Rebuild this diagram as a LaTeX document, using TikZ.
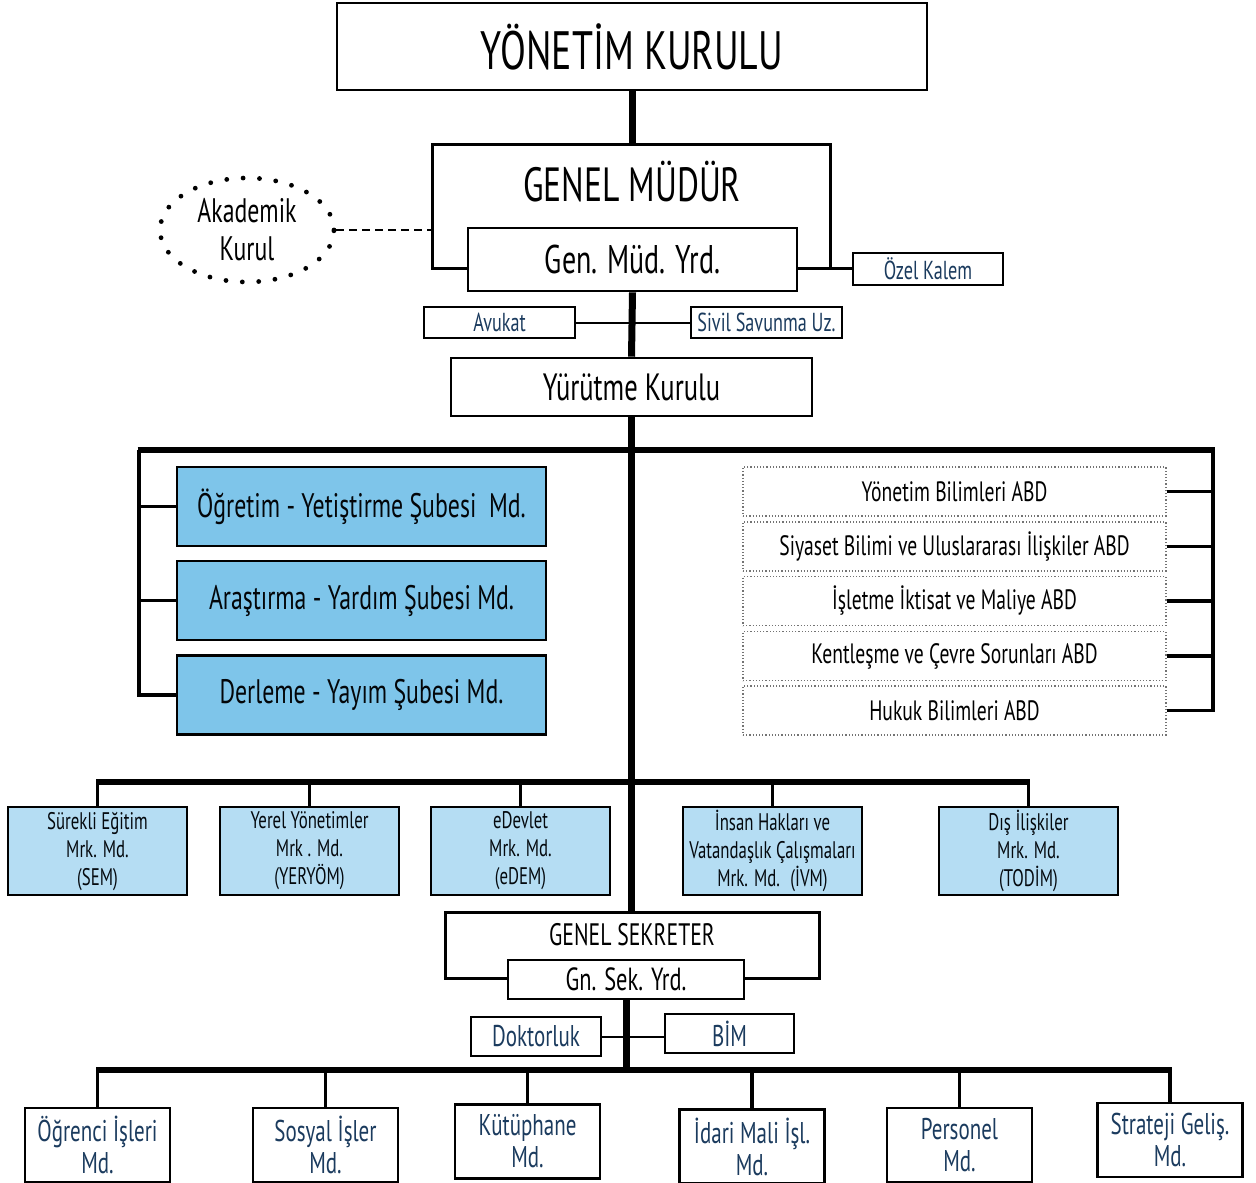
\documentclass[tikz,border=0pt]{standalone}
\usepackage{fontspec}
\setmainfont{PT Sans}[FakeStretch=0.7]
\usetikzlibrary{shapes.geometric}
\definecolor{navy}{HTML}{1B3B5E}
\definecolor{bluefill}{HTML}{7EC5EA}
\definecolor{lightfill}{HTML}{B5DDF3}
\newcommand{\fs}[2]{\fontsize{#1}{#2}\selectfont}
\tikzset{
  box/.style={draw=black, line width=1.3pt, fill=white, inner sep=0pt, align=center},
  smallbox/.style={box, text=navy},
  bluebox/.style={box, fill=bluefill, text=black!90!navy, minimum width=184.5pt, minimum height=39.5pt, font=\fs{17}{20}},
  midbox/.style={box, fill=lightfill, minimum width=89.5pt, minimum height=44pt, text=black!85!navy, font=\fs{12}{14}},
  abdbox/.style={draw=black!55, densely dotted, line width=0.6pt, inner sep=0pt, minimum width=211.5pt, minimum height=24.5pt, font=\fs{14}{16}},
  botbox/.style={box, text=navy, minimum width=72.5pt, minimum height=37pt, font=\fs{15}{16}},
  trunk/.style={line width=3.5pt},
  bus/.style={line width=3pt},
  branch/.style={line width=1.8pt},
  thin/.style={line width=1pt},
  txt/.style={inner sep=0pt}
}
\begin{document}
\begin{tikzpicture}[x=0.5pt,y=-0.5pt]
\useasboundingbox (0,0) rectangle (1256,1182);
% top
\node[box, minimum width=295pt, minimum height=43.5pt, font=\fs{27}{32}] (yk) at (632,46.5) {YÖNETİM KURULU};
\node[inner sep=0pt, minimum width=198.5pt, minimum height=61.5pt] (gm) at (631.5,206.5) {};
\node[txt, font=\fs{24}{28}] (gmt) at (632,182) {GENEL MÜDÜR};
\node[box, minimum width=164.5pt, minimum height=31.5pt, font=\fs{20}{24}] (yrd) at (632.5,259.5) {Gen. Müd. Yrd.};
\draw[line width=1.3pt] (yrd.west |- gm.south) -- (gm.south west) -- (gm.north west) -- (gm.north east) -- (gm.south east) -- (yrd.east |- gm.south);
\node[smallbox, minimum width=75pt, minimum height=16pt, font=\fs{13}{15}] (ozel) at (928,269) {Özel Kalem};
\draw[line width=1.3pt] (gm.south east) -- (ozel.west |- gm.south east);
\node[ellipse, draw, line width=2.4pt, line cap=round, dash pattern=on 0pt off 8.2pt, minimum width=87pt, minimum height=52pt, align=center, inner sep=0pt, font=\fs{17}{19}] (ak) at (247,230) {Akademik\\Kurul};
\draw[line width=1.1pt, dash pattern=on 4pt off 2.5pt] (ak.east) -- (gm.west |- ak.east);
\draw[trunk] (yk.south) -- (yk.south |- gm.north);
% avukat / sivil
\node[smallbox, minimum width=75.5pt, minimum height=15.5pt, font=\fs{13}{15}] (avk) at (499.5,322.5) {Avukat};
\node[smallbox, minimum width=75.5pt, minimum height=15.5pt, font=\fs{13}{15}] (siv) at (766.5,322.5) {Sivil Savunma Uz.};
\node[box, minimum width=180.5pt, minimum height=29pt, font=\fs{19}{22}] (yur) at (631.5,387) {Yürütme Kurulu};
\draw[thin] (avk.east) -- (siv.west);
\draw[trunk] (yrd.south) -- (yur.north);
% left/right bus
\coordinate (bl) at (139,450);
\coordinate (br) at (1213,450);
\draw[bus] ([xshift=-0.75pt]bl) -- ([xshift=0.75pt]br);
% blue boxes
\node[bluebox] (b1) at (361.5,506.5) {Öğretim - Yetiştirme Şubesi~ Md.};
\node[bluebox] (b2) at (361.5,600.5) {Araştırma - Yardım Şubesi Md.};
\node[bluebox] (b3) at (361.5,695) {Derleme - Yayım Şubesi Md.};
\draw[branch] (bl) -- (bl |- b3.west) -- (b3.west);
\draw[branch] (bl |- b1.west) -- (b1.west);
\draw[branch] (bl |- b2.west) -- (b2.west);
% ABD boxes
\node[abdbox] (a1) at (954.5,491.5) {Yönetim Bilimleri ABD};
\node[abdbox] (a2) at (954.5,546.5) {Siyaset Bilimi ve Uluslararası İlişkiler ABD};
\node[abdbox] (a3) at (954.5,601) {İşletme İktisat ve Maliye ABD};
\node[abdbox] (a4) at (954.5,656) {Kentleşme ve Çevre Sorunları ABD};
\node[abdbox] (a5) at (954.5,710.5) {Hukuk Bilimleri ABD};
\draw[branch] (br) -- (br |- a5.east) -- (a5.east);
\foreach \n in {a1,a2,a3,a4} \draw[branch] (br |- \n.east) -- (\n.east);
% middle row
\coordinate (ml) at (97.5,782);
\coordinate (mr) at (1028.5,782);
\draw[bus] ([xshift=-0.75pt]ml) -- ([xshift=0.75pt]mr);
\node[midbox] (m1) at (97.5,851) {Sürekli Eğitim\\Mrk. Md.\\(SEM)};
\node[midbox] (m2) at (309.5,851) {Yerel Yönetimler\\Mrk . Md.\\(YERYÖM)};
\node[midbox] (m3) at (520.5,851) {eDevlet\\Mrk. Md.\\(eDEM)};
\node[midbox] (m4) at (772.5,851) {İnsan Hakları ve\\Vatandaşlık Çalışmaları\\Mrk. Md.~ (İVM)};
\node[midbox] (m5) at (1028.5,851) {Dış İlişkiler\\Mrk. Md.\\(TODİM)};
\foreach \n in {m1,m2,m3,m4,m5} \draw[branch] (\n.north |- ml) -- (\n.north);
% genel sekreter
\node[inner sep=0pt, minimum width=186.5pt, minimum height=32.5pt] (gs) at (632.5,945.5) {};
\node[txt, font=\fs{15.5}{18}] (gst) at (632,935) {GENEL SEKRETER};
\node[box, minimum width=118pt, minimum height=19.5pt, font=\fs{16}{18}] (gsy) at (626,979.5) {Gn. Sek. Yrd.};
\draw[line width=1.3pt] (gsy.west |- gs.south) -- (gs.south west) -- (gs.north west) -- (gs.north east) -- (gs.south east) -- (gsy.east |- gs.south);
\draw[trunk] (yur.south) -- (yur.south |- gs.north);
% doktorluk / bim
\node[smallbox, minimum width=65pt, minimum height=19.5pt, font=\fs{15}{17}] (dok) at (536,1036.5) {Doktorluk};
\node[smallbox, minimum width=64.5pt, minimum height=19.5pt, font=\fs{15}{17}] (bim) at (729.5,1033.5) {BİM};
\draw[thin] (dok.east) -- (bim.west |- dok.east);
% bottom row
\coordinate (bbl) at (97.5,1070);
\coordinate (bbr) at (1170,1070);
\draw[trunk] (gsy.south) -- (gsy.south |- bbl);
\draw[bus] ([xshift=-0.75pt]bbl) -- ([xshift=0.75pt]bbr);
\node[botbox] (c1) at (97.5,1145) {Öğrenci İşleri\\Md.};
\node[botbox] (c2) at (325.5,1145) {Sosyal İşler\\Md.};
\node[botbox] (c3) at (527.5,1141.5) {Kütüphane\\Md.};
\node[botbox] (c4) at (752,1146.5) {İdari Mali İşl.\\Md.};
\node[botbox] (c5) at (959.5,1145) {Personel\\Md.};
\node[botbox] (c6) at (1170,1140) {Strateji Geliş.\\Md.};
\foreach \n in {c1,c2,c3,c4,c5,c6} \draw[branch] (\n.north |- bbl) -- (\n.north);
\end{tikzpicture}
\end{document}
